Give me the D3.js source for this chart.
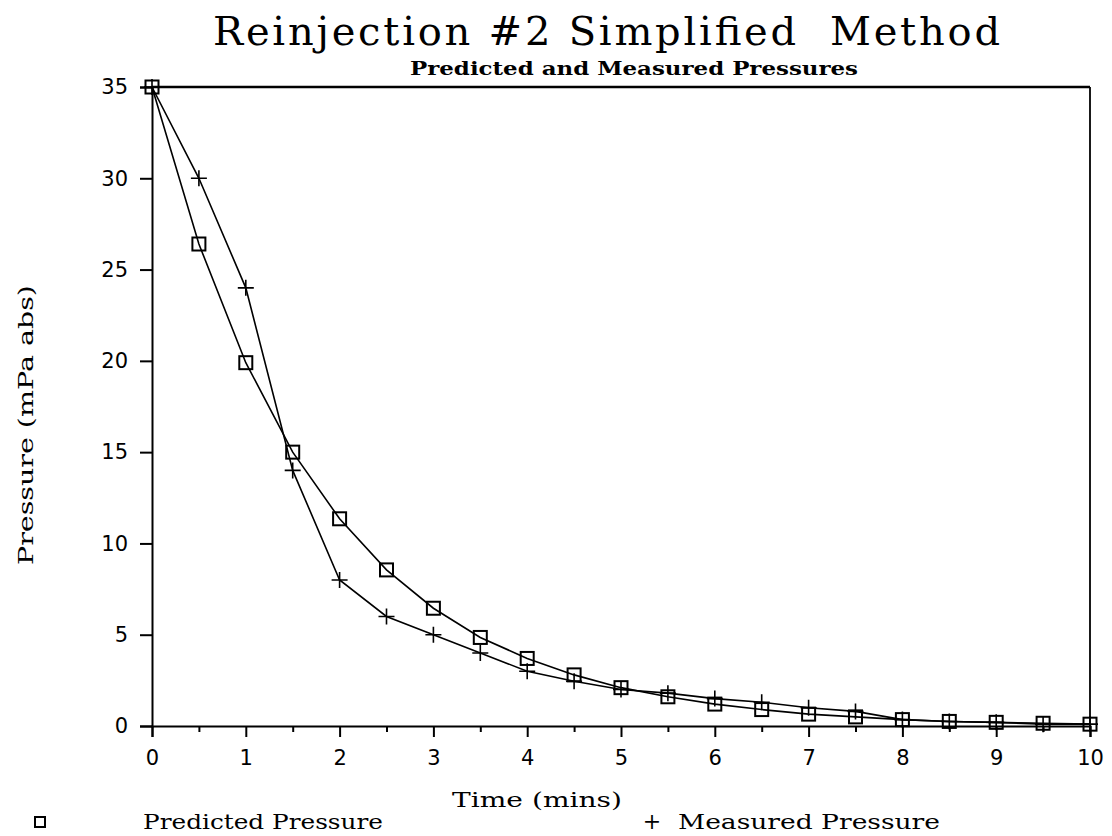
<!DOCTYPE html>
<html>
<head>
<meta charset="utf-8">
<script src="https://cdn.jsdelivr.net/npm/d3@7"></script>
<style>
  html, body { margin: 0; padding: 0; background: #fff; }
  svg { display: block; }
</style>
</head>
<body>
<div id="chart"></div>
<script>
// ---- data ----
const times = [0, 0.5, 1, 1.5, 2, 2.5, 3, 3.5, 4, 4.5, 5, 5.5, 6, 6.5, 7, 7.5, 8, 8.5, 9, 9.5, 10];
const predicted = [35, 26.4, 19.9, 15.0, 11.35, 8.55, 6.45, 4.85, 3.7, 2.8, 2.1, 1.6, 1.2, 0.9, 0.65, 0.5, 0.35, 0.25, 0.2, 0.15, 0.1];
const measured  = [35, 30, 24, 14, 8, 6, 5, 4, 3, 2.45, 2.0, 1.8, 1.5, 1.3, 1.0, 0.8, 0.35, 0.25, 0.2, 0.1, 0.1];
const xTicks = [0, 1, 2, 3, 4, 5, 6, 7, 8, 9, 10];
const xMinorTicks = [0.5, 1.5, 2.5, 3.5, 4.5, 5.5, 6.5, 7.5, 8.5, 9.5];
const yTicks = [0, 5, 10, 15, 20, 25, 30, 35];
const titleText = "Reinjection #2 Simplified\u00a0\u00a0Method";
const subtitleText = "Predicted and Measured Pressures";
const xLabel = "Time (mins)";
const yLabel = "Pressure (mPa abs)";
const seriesNames = ["Predicted Pressure", "Measured Pressure"];

(function () {
const W = 1112, H = 836;
const mLeft = 152, mRight = 1090, mTop = 87, mBottom = 726;

const svg = d3.select("#chart").append("svg").attr("width", W).attr("height", H);

const x = d3.scaleLinear().domain([0, 10]).range([mLeft, mRight]);
const y = d3.scaleLinear().domain([0, 35]).range([mBottom, mTop]);

const serif = "'DejaVu Serif', 'Liberation Serif', serif";
const sans = "'DejaVu Sans', Verdana, sans-serif";

function label(t, px, py, size, len, opts = {}) {
  const el = svg.append("text").attr("x", px).attr("y", py)
    .attr("font-family", serif).attr("font-size", size)
    .attr("textLength", len).attr("lengthAdjust", opts.adjust || "spacingAndGlyphs")
    .attr("fill", "#000")
    .text(t);
  if (opts.weight) el.attr("font-weight", opts.weight);
  return el;
}

// title
label(titleText, 213, 45, 40, 787, { adjust: "spacing" });
label(subtitleText, 410, 75, 19, 448, { weight: "bold" });

// frame (top and right)
svg.append("line").attr("x1", mLeft).attr("x2", mRight).attr("y1", mTop).attr("y2", mTop)
  .attr("stroke", "#000").attr("stroke-width", 2.5);
svg.append("line").attr("x1", mRight).attr("x2", mRight).attr("y1", mTop).attr("y2", mBottom)
  .attr("stroke", "#000").attr("stroke-width", 1.8);

// y axis
const yAxis = d3.axisLeft(y).tickValues(yTicks).tickSize(12).tickPadding(12).tickFormat(d3.format("d"));
const gy = svg.append("g").attr("transform", `translate(${mLeft},0)`).call(yAxis);
gy.attr("font-family", sans).attr("font-size", 21);
gy.select(".domain").attr("stroke-width", 2);
gy.selectAll(".tick line").attr("stroke-width", 2);
gy.selectAll("text").attr("font-family", sans).attr("font-size", 21).attr("fill", "#000");

// x axis
const xAxis = d3.axisBottom(x).tickValues(xTicks).tickSize(11).tickPadding(13).tickFormat(d3.format("d"));
const gx = svg.append("g").attr("transform", `translate(0,${mBottom})`).call(xAxis);
gx.attr("font-family", sans).attr("font-size", 21);
gx.select(".domain").attr("stroke-width", 2);
gx.selectAll(".tick line").attr("stroke-width", 2);
gx.selectAll("text").attr("font-family", sans).attr("font-size", 21).attr("fill", "#000");
const xAxisMinor = d3.axisBottom(x).tickValues(xMinorTicks).tickSize(6).tickFormat("");
const gxm = svg.append("g").attr("transform", `translate(0,${mBottom})`).call(xAxisMinor);
gxm.select(".domain").remove();
gxm.selectAll(".tick line").attr("stroke-width", 2);

// axis labels
label(xLabel, 452, 807, 21, 170);
svg.append("text").attr("transform", "translate(33,565) rotate(-90)")
  .attr("font-family", serif).attr("font-size", 20)
  .attr("textLength", 280).attr("lengthAdjust", "spacingAndGlyphs")
  .text(yLabel);

// lines
const line = d3.line().x((d, i) => x(times[i])).y(d => y(d));
svg.append("path").datum(predicted).attr("d", line)
  .attr("fill", "none").attr("stroke", "#000").attr("stroke-width", 1.6);
svg.append("path").datum(measured).attr("d", line)
  .attr("fill", "none").attr("stroke", "#000").attr("stroke-width", 1.6);

// markers: squares
const sq = 13;
svg.append("g").selectAll("rect").data(predicted).join("rect")
  .attr("x", (d, i) => x(times[i]) - sq / 2).attr("y", d => y(d) - sq / 2)
  .attr("width", sq).attr("height", sq)
  .attr("fill", "none").attr("stroke", "#000").attr("stroke-width", 2);
// markers: plus
const pl = 8;
svg.append("g").selectAll("path").data(measured).join("path")
  .attr("d", (d, i) => {
    const cx = x(times[i]), cy = y(d);
    return `M${cx - pl},${cy}H${cx + pl}M${cx},${cy - pl}V${cy + pl}`;
  })
  .attr("fill", "none").attr("stroke", "#000").attr("stroke-width", 1.6);

// legend
const legY = 829;
svg.append("rect").attr("x", 35).attr("y", legY - 12).attr("width", 10).attr("height", 10)
  .attr("fill", "none").attr("stroke", "#000").attr("stroke-width", 2);
label(seriesNames[0], 143, legY, 21, 240);
svg.append("text").attr("x", 652).attr("y", legY).attr("text-anchor", "middle")
  .attr("font-family", serif).attr("font-size", 22)
  .text("+");
label(seriesNames[1], 678, legY, 21, 262);
})();
</script>
</body>
</html>
